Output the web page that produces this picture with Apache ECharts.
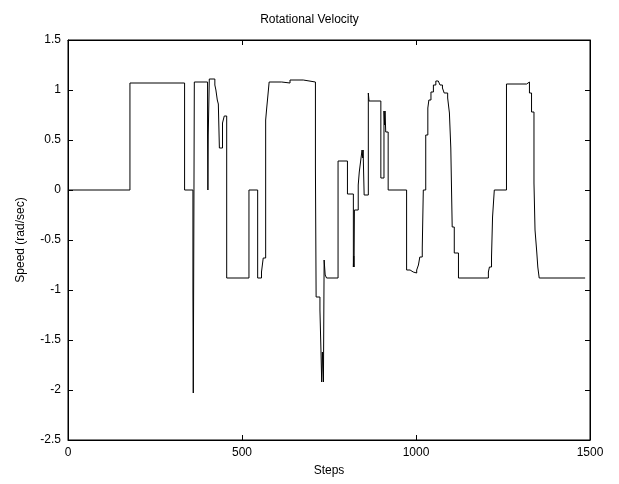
<!DOCTYPE html>
<html>
<head>
<meta charset="utf-8">
<script src="https://cdn.jsdelivr.net/npm/echarts@6/dist/echarts.min.js"></script>
<style>
  html, body { margin: 0; padding: 0; background: #fff; }
  #chart { width: 619px; height: 484px; }
</style>
</head>
<body>
<div id="chart"></div>
<script>
'use strict';

// change points of the signal: value holds until the next step
var steps = [0, 178, 335, 359, 360, 361, 363, 401, 402, 403, 406, 422, 425, 429, 432, 435, 444, 449, 456,
  520, 545, 556, 561, 568, 571, 574, 578, 614, 638, 676, 711, 713, 724, 727, 729, 731, 734, 736, 739, 743,
  776, 803, 820, 821, 822, 823, 834, 837, 842, 845, 847, 848, 851, 863, 865, 899, 908, 910, 911, 913, 920,
  973, 983, 992, 1002, 1007, 1011, 1018, 1021, 1028, 1034, 1037, 1043, 1050, 1057, 1064, 1069, 1076, 1081,
  1091, 1096, 1100, 1104, 1110, 1122, 1208, 1211, 1217, 1220, 1225, 1260, 1318, 1326, 1332, 1339, 1342,
  1347, 1350, 1354, 1486];
var speed = [0, 1.07, 0, -1.02, -2.03, -1.02, 1.08, 0.55, 0, 0.55, 1.11, 1.05, 1.0, 0.9, 0.86, 0.42, 0.67, 0.74, -0.88,
  0, -0.88, -0.82, -0.68, 0.70, 0.82, 0.93, 1.08, 1.07, 1.10, 1.08, 0.22, -1.07, -1.2, -1.62, -1.92, -1.62, -1.92, -0.70, -0.85, -0.88,
  0.29, -0.04, -0.77, -0.66, -0.77, -0.2, 0.05, 0.18, 0.32, 0.40, 0.32, 0.40, -0.05, 0.97, 0.89, 0.12, 0.79, 0.65, 0.79, 0.58, 0,
  -0.80, -0.82, -0.83, -0.80, -0.75, -0.67, -0.58, 0, 0.55, 0.82, 0.90, 0.98, 1.05, 1.09, 1.08, 1.05, 1.02, 0.97,
  0.92, 0.77, 0.42, -0.37, -0.63, -0.88, -0.82, -0.77, -0.67, -0.27, 0, 1.06, 1.08, 0.97, 0.78, 0.07, -0.40,
  -0.62, -0.77, -0.88, -0.88];

var xTicks = { min: 0, max: 1500, interval: 500 };
var yTicks = { min: -2.5, max: 1.5, interval: 0.5 };

var font = '"Liberation Sans", Arial, sans-serif';

var points = steps.map(function (s, i) { return [s, speed[i]]; });

var axisCommon = {
  axisLine: { show: true, onZero: false, lineStyle: { color: '#000', width: 1 } },
  axisTick: { show: true, inside: true, length: 5, lineStyle: { color: '#000' } },
  splitLine: { show: false }
};

var option = {
  animation: false,
  backgroundColor: '#fff',
  title: {
    text: 'Rotational Velocity',
    left: 'center',
    top: 9,
    textStyle: { fontFamily: font, fontSize: 12, fontWeight: 'normal', color: '#000' }
  },
  grid: { left: 68, top: 40, right: 29, bottom: 44, show: true, borderColor: '#000', borderWidth: 1 },
  xAxis: [
    Object.assign({
      type: 'value', min: xTicks.min, max: xTicks.max, interval: xTicks.interval,
      name: 'Steps', nameLocation: 'middle', nameGap: 25,
      nameTextStyle: { fontFamily: font, fontSize: 12, color: '#000' },
      axisLabel: {
        fontFamily: font, fontSize: 12, color: '#000', margin: 7,
        formatter: function (v) { return String(v); }
      }
    }, axisCommon),
    Object.assign({
      type: 'value', position: 'top', min: xTicks.min, max: xTicks.max, interval: xTicks.interval,
      axisLabel: { show: false }
    }, axisCommon)
  ],
  yAxis: [
    Object.assign({
      type: 'value', min: yTicks.min, max: yTicks.max, interval: yTicks.interval,
      name: 'Speed (rad/sec)', nameLocation: 'middle', nameGap: 41,
      nameTextStyle: { fontFamily: font, fontSize: 12, color: '#000' },
      axisLabel: { fontFamily: font, fontSize: 12, color: '#000', margin: 7 }
    }, axisCommon),
    Object.assign({
      type: 'value', position: 'right', min: yTicks.min, max: yTicks.max, interval: yTicks.interval,
      axisLabel: { show: false }
    }, axisCommon)
  ],
  series: [{
    type: 'line',
    step: 'end',
    data: points,
    showSymbol: false,
    symbol: 'none',
    lineStyle: { color: '#000', width: 1 }
  }]
};

var myChart = echarts.init(document.getElementById('chart'));
myChart.setOption(option);
</script>
</body>
</html>
